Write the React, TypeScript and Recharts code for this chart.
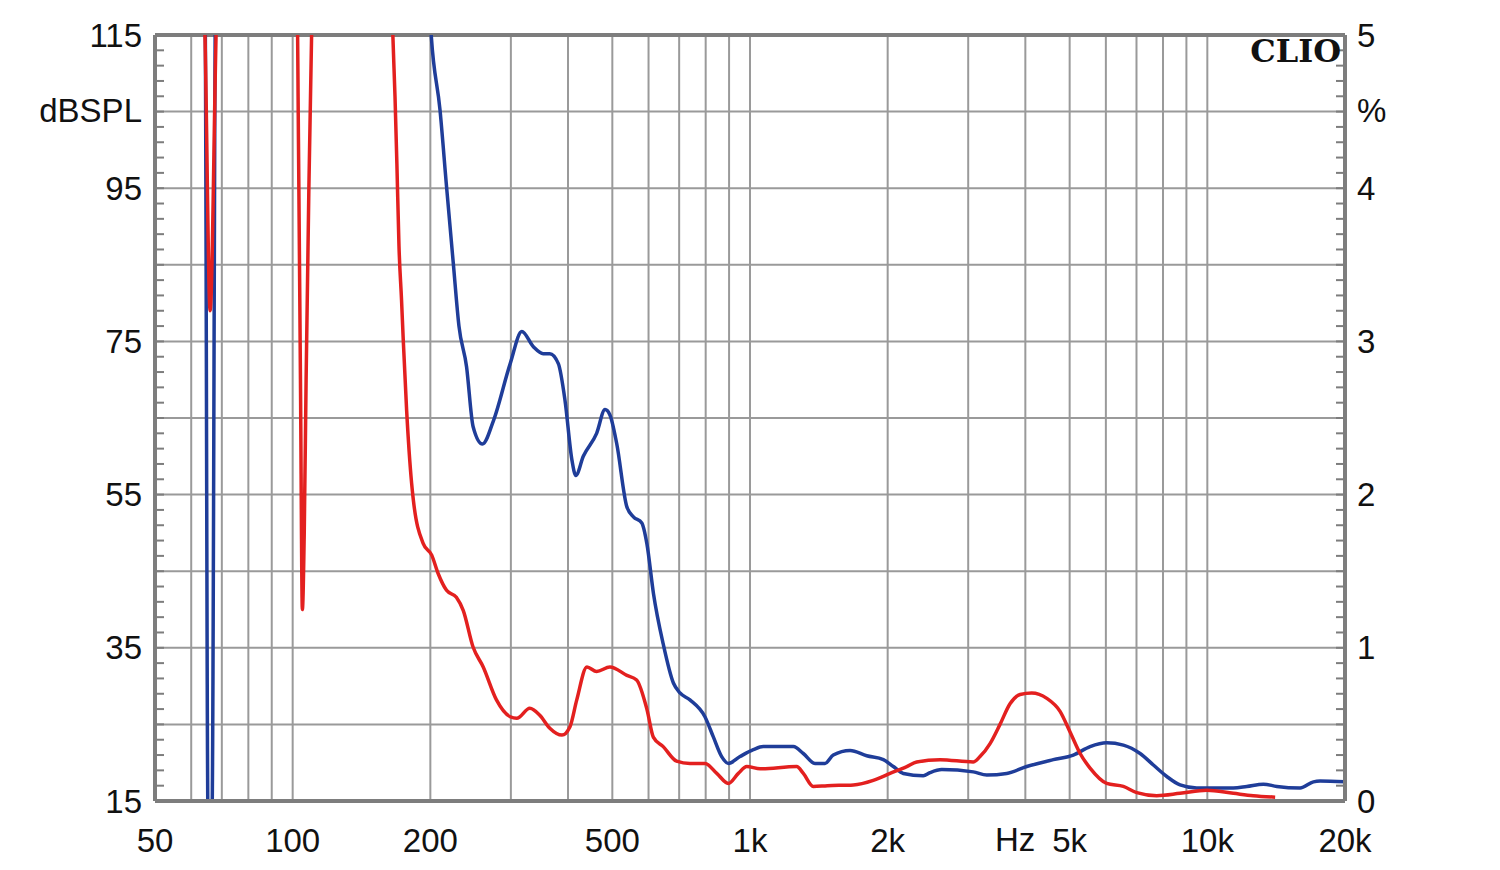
import { LineChart, Line, XAxis, YAxis, CartesianGrid, ReferenceLine } from 'recharts';

// blue curve (frequency in Hz, level in dB); values above 115 run off the top of the plot
const blueFreq = [
  63, 64.3, 65.3, 66.6, 68, 195, 201, 210, 217, 224.5, 231, 240, 248, 260, 275, 299, 317, 336, 353, 365,
  381, 394, 408, 416, 432, 462, 482, 494, 511, 538, 556, 580, 595, 615, 646, 680, 703, 739, 797, 831,
  867, 897, 951, 1017, 1069, 1244, 1308, 1388, 1459, 1521, 1655, 1800, 1957, 2058, 2164, 2393, 2475, 2626, 3078, 3294,
  3642, 4028, 4606, 5093, 5541, 6025, 6553, 7129, 7621, 8154, 8717, 9478, 10485, 11400, 12200, 13260, 14190, 15950, 17060, 17640,
  20000,
];
const blueDb = [
  130, 122, 13, 13, 130, 130, 114.8, 105.2, 95.2, 85.2, 77, 71.7, 63.9, 61.6, 64.7, 72.1, 76.3, 74.3, 73.4, 73.4,
  72.1, 67.3, 59.5, 57.5, 60, 63, 66.1, 65.4, 61.7, 53.4, 52.1, 51.3, 48.6, 42.1, 35.5, 30.4, 29.1, 28.2, 26, 23.4,
  20.8, 19.9, 20.8, 21.7, 22.1, 22.1, 21.2, 19.9, 19.9, 21, 21.6, 20.9, 20.4, 19.5, 18.6, 18.3, 18.7, 19.1, 18.8, 18.4,
  18.6, 19.5, 20.4, 21, 22.1, 22.6, 22.3, 21.2, 19.7, 18.2, 17.1, 16.7, 16.7, 16.7, 16.9, 17.2, 16.9, 16.7, 17.5, 17.6,
  17.5,
];

// red curve
const redFreq = [
  63, 64.3, 66, 68, 69, 102, 103, 104, 105, 106, 107, 108.5, 110, 111, 164, 165.6, 167.4, 169, 170.8, 173,
  174.5, 177.5, 182, 183.6, 193, 201.4, 208, 217, 228, 236, 248, 261, 279, 299, 309, 330, 347, 365, 388, 404,
  418, 440, 462, 494, 538, 565, 595, 615, 646, 691, 739, 797, 846, 897, 943, 984, 1052, 1265, 1308, 1375,
  1476, 1683, 1860, 2024, 2202, 2315, 2604, 3078, 3184, 3349, 3521, 3703, 3895, 4131, 4457, 4764, 5010, 5270, 5541, 6025,
  6553, 7010, 7750, 8717, 9970, 11400, 12600, 14070,
];
const redDb = [
  130, 115, 79, 115, 130, 125, 100, 70, 40, 50, 70, 95, 115, 125, 125, 115, 107, 98.2, 87.4, 80.4,
  75.2, 66, 56.5, 54.3, 48.6, 47.1, 44.7, 42.5, 41.6, 39.9, 35.1, 32.5, 28.2, 26, 25.8, 27.1, 26.2, 24.5, 23.6, 24.7,
  28.2, 32.5, 31.9, 32.5, 31.4, 30.8, 27, 23.3, 22.1, 20.2, 19.9, 19.9, 18.6, 17.3, 18.6, 19.5, 19.2, 19.5, 18.6, 16.9,
  17, 17.1, 17.7, 18.6, 19.5, 20.1, 20.4, 20.1, 20.8, 22.5, 25, 27.7, 28.9, 29.1, 28.4, 26.7, 24, 21.2, 19.3, 17.3,
  16.9, 16.1, 15.7, 16, 16.4, 16, 15.7, 15.5,
];

const freqTicks = [50, 100, 200, 500, 1000, 2000, 5000, 10000, 20000];
const freqTickLabels = ['50', '100', '200', '500', '1k', '2k', '5k', '10k', '20k'];
const freqGrid = [60, 70, 80, 90, 100, 200, 300, 400, 500, 600, 700, 800, 900, 1000, 2000, 3000, 4000, 5000, 6000, 7000, 8000, 9000, 10000];
const dbGrid = [25, 35, 45, 55, 65, 75, 85, 95, 105];
const dbLabels = [15, 35, 55, 75, 95, 115];
const pctLabels = [0, 1, 2, 3, 4, 5];

const dbMinor = Array.from({ length: 51 }, (_, i) => 15 + 2 * i);
const pctMinor = Array.from({ length: 51 }, (_, i) => i / 10);

const blueData = blueFreq.map((f, i) => ({ f, db: blueDb[i] }));
const redData = redFreq.map((f, i) => ({ f, db: redDb[i] }));

const FRAME = '#7d7d7d';
const GRID = '#9a9a9a';
const FONT = '"Liberation Sans", Arial, sans-serif';
const TEXT_SIZE = 33;

function LeftTick({ x, y, payload }: any) {
  const v = payload.value;
  return (
    <g>
      <line x1={x + 13} x2={x + 22} y1={y} y2={y} stroke={FRAME} strokeWidth={2} />
      {dbLabels.includes(v) && (
        <text x={x} y={y} textAnchor="end" dominantBaseline="central" fontSize={TEXT_SIZE} fontFamily={FONT} fill="#111">
          {v}
        </text>
      )}
    </g>
  );
}

function RightTick({ x, y, payload }: any) {
  const v = payload.value;
  return (
    <g>
      <line x1={x - 12} x2={x - 21} y1={y} y2={y} stroke={FRAME} strokeWidth={2} />
      {pctLabels.includes(v) && (
        <text x={x} y={y} textAnchor="start" dominantBaseline="central" fontSize={TEXT_SIZE} fontFamily={FONT} fill="#111">
          {v}
        </text>
      )}
    </g>
  );
}

function FreqTick({ x, y, payload }: any) {
  const idx = freqTicks.indexOf(payload.value);
  return (
    <text x={x} y={y + 39} textAnchor="middle" dominantBaseline="central" fontSize={TEXT_SIZE} fontFamily={FONT} fill="#111">
      {freqTickLabels[idx]}
    </text>
  );
}

const overlayText: React.CSSProperties = {
  position: 'absolute',
  fontFamily: FONT,
  fontSize: TEXT_SIZE,
  color: '#111',
  lineHeight: '32px',
  whiteSpace: 'nowrap',
};

export default function App() {
  return (
    <div style={{ position: 'relative', width: 1500, height: 870, background: '#fff' }}>
      <style>{'body{margin:0;background:#fff}'}</style>
      <LineChart width={1500} height={870} margin={{ top: 35, right: 0, bottom: 0, left: 0 }}>
        <CartesianGrid
          yAxisId="left"
          stroke={GRID}
          strokeWidth={2}
          horizontalValues={dbGrid}
          verticalValues={freqGrid}
        />
        <XAxis
          dataKey="f"
          type="number"
          scale="log"
          domain={[50, 20000]}
          allowDataOverflow
          ticks={freqTicks}
          interval={0}
          height={69}
          tickLine={false}
          tickSize={0}
          tickMargin={0}
          tick={<FreqTick />}
          axisLine={{ stroke: FRAME, strokeWidth: 4 }}
        />
        <YAxis
          yAxisId="left"
          domain={[15, 115]}
          allowDataOverflow
          ticks={dbMinor}
          interval={0}
          width={155}
          tickLine={false}
          tickSize={0}
          tickMargin={13}
          tick={<LeftTick />}
          axisLine={{ stroke: FRAME, strokeWidth: 4 }}
        />
        <YAxis
          yAxisId="right"
          orientation="right"
          domain={[0, 5]}
          allowDataOverflow
          ticks={pctMinor}
          interval={0}
          width={155}
          tickLine={false}
          tickSize={0}
          tickMargin={12}
          tick={<RightTick />}
          axisLine={{ stroke: FRAME, strokeWidth: 4 }}
        />
        <ReferenceLine yAxisId="left" y={115} stroke={FRAME} strokeWidth={4} />
        <Line
          yAxisId="left"
          data={blueData}
          dataKey="db"
          type="monotone"
          stroke="#1f3d99"
          strokeWidth={3.5}
          dot={false}
          isAnimationActive={false}
        />
        <Line
          yAxisId="left"
          data={redData}
          dataKey="db"
          type="monotone"
          stroke="#e3201f"
          strokeWidth={3.5}
          dot={false}
          isAnimationActive={false}
        />
      </LineChart>
      <div style={{ ...overlayText, right: 1500 - 142, top: 95 }}>dBSPL</div>
      <div style={{ ...overlayText, left: 1357, top: 95 }}>%</div>
      <div style={{ ...overlayText, left: 995, top: 824 }}>Hz</div>
      <div
        style={{
          ...overlayText,
          right: 1500 - 1341,
          top: 35,
          fontFamily: '"DejaVu Serif", "Liberation Serif", serif',
          fontWeight: 'bold',
          fontSize: 32,
        }}
      >
        CLIO
      </div>
    </div>
  );
}
